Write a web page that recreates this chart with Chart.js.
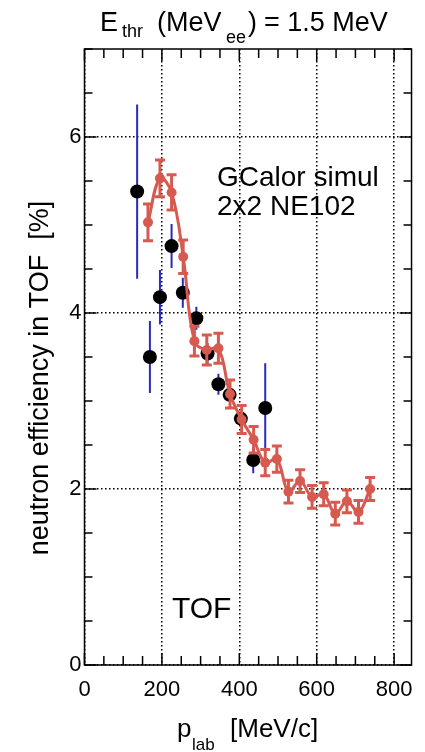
<!DOCTYPE html>
<html>
<head>
<meta charset="utf-8">
<script src="https://cdn.jsdelivr.net/npm/chart.js@4.4.0/dist/chart.umd.min.js"></script>
<style>
  html, body { margin: 0; padding: 0; background: #fff; }
</style>
</head>
<body>
<canvas id="eff" width="425" height="752"></canvas>
<script>
// GCalor simulation (red)
const simP = [164, 195, 225, 255, 284, 316, 346, 376, 406, 437, 467, 497, 527, 557, 588, 618, 648, 678, 708, 738];
const simEff = [5.03, 5.53, 5.37, 4.64, 3.68, 3.58, 3.60, 3.08, 2.79, 2.56, 2.30, 2.34, 1.97, 2.09, 1.91, 1.94, 1.72, 1.86, 1.74, 2.00];
const simErr = [0.21, 0.21, 0.20, 0.19, 0.17, 0.17, 0.17, 0.16, 0.16, 0.15, 0.15, 0.15, 0.13, 0.13, 0.13, 0.13, 0.13, 0.13, 0.13, 0.13];

// measured points (black, blue errors)
const expP = [136, 169, 195, 225, 254, 289, 318, 346, 375, 404, 436, 467];
const expEff = [5.38, 3.50, 4.18, 4.76, 4.23, 3.94, 3.54, 3.19, 3.07, 2.80, 2.33, 2.92];
const expErr = [0.99, 0.41, 0.31, 0.25, 0.17, 0.13, 0.12, 0.12, 0.06, 0.06, 0.15, 0.51];

const FONT = "'Liberation Sans', Arial, sans-serif";
const RED = '#d65a50';
const BLUE = '#2a2ac0';

Chart.defaults.font.family = FONT;

const errorBars = {
  id: 'errorBars',
  beforeDatasetDraw(chart, args) {
    const ds = chart.data.datasets[args.index];
    if (!ds.errors) return;
    const { ctx, scales: { x, y } } = chart;
    ctx.save();
    ctx.strokeStyle = ds.errorColor;
    ctx.lineWidth = ds.errorWidth;
    ctx.beginPath();
    ds.data.forEach((pt, i) => {
      const px = x.getPixelForValue(pt.x);
      const top = y.getPixelForValue(pt.y + ds.errors[i]);
      const bot = y.getPixelForValue(pt.y - ds.errors[i]);
      ctx.moveTo(px, top);
      ctx.lineTo(px, bot);
      if (ds.capWidth) {
        const c = ds.capWidth / 2;
        ctx.moveTo(px - c, top); ctx.lineTo(px + c, top);
        ctx.moveTo(px - c, bot); ctx.lineTo(px + c, bot);
      }
    });
    ctx.stroke();
    ctx.restore();
  }
};

// frame with inward ticks on all four sides
const frame = {
  id: 'frame',
  afterDatasetsDraw(chart) {
    const { ctx, chartArea: a, scales: { x, y } } = chart;
    ctx.save();
    ctx.strokeStyle = '#000';
    ctx.lineWidth = 1.5;
    ctx.strokeRect(a.left, a.top, a.right - a.left, a.bottom - a.top);
    ctx.beginPath();
    for (let v = 0; v <= x.max; v += 50) {
      const p = x.getPixelForValue(v);
      const len = v % 200 === 0 ? 12 : 9;
      ctx.moveTo(p, a.bottom); ctx.lineTo(p, a.bottom - len);
      ctx.moveTo(p, a.top); ctx.lineTo(p, a.top + len);
    }
    for (let v = 0; v <= y.max; v += 0.5) {
      const p = y.getPixelForValue(v);
      const len = v % 2 === 0 ? 12 : 8;
      ctx.moveTo(a.left, p); ctx.lineTo(a.left + len, p);
      ctx.moveTo(a.right, p); ctx.lineTo(a.right - len, p);
    }
    ctx.stroke();
    ctx.restore();
  }
};

// parts: [text, x, size, dy]
function placeText(ctx, parts, y) {
  parts.forEach(([t, x, size, dy]) => {
    ctx.font = size + 'px ' + FONT;
    ctx.fillText(t, x, y + dy);
  });
}

const labels = {
  id: 'labels',
  afterDraw(chart) {
    const { ctx } = chart;
    ctx.save();
    ctx.fillStyle = '#000';
    ctx.textBaseline = 'alphabetic';
    ctx.textAlign = 'left';
    placeText(ctx, [
      ['E', 100, 27, 0], ['thr', 122, 18, 6], ['(MeV', 157, 27, 0],
      ['ee', 226, 18, 12], [')', 248, 27, 0], ['= 1.5 MeV', 264, 27, 0]
    ], 31);
    placeText(ctx, [['p', 177, 26, 0], ['lab', 192, 17, 13], ['[MeV/c]', 230, 26, 0]], 737);

    ctx.font = '28px ' + FONT;
    ctx.fillText('GCalor simul', 217, 186);
    ctx.fillText('2x2 NE102', 217, 215);
    ctx.font = '30px ' + FONT;
    ctx.fillText('TOF', 172, 618);

    ctx.translate(48, 378);
    ctx.rotate(-Math.PI / 2);
    ctx.textAlign = 'center';
    ctx.font = '27px ' + FONT;
    ctx.fillText('neutron efficiency in TOF  [%]', 0, 0);
    ctx.restore();
  }
};

const tickFont = { family: FONT, size: 22 };

new Chart(document.getElementById('eff').getContext('2d'), {
  type: 'scatter',
  data: {
    datasets: [
      {
        label: 'GCalor simul',
        data: simP.map((p, i) => ({ x: p, y: simEff[i] })),
        errors: simErr,
        errorColor: RED,
        errorWidth: 3,
        capWidth: 10,
        showLine: true,
        tension: 0.4,
        borderColor: RED,
        backgroundColor: RED,
        borderWidth: 3,
        pointRadius: 5,
        pointBorderWidth: 0,
        order: 0
      },
      {
        label: 'data',
        data: expP.map((p, i) => ({ x: p, y: expEff[i] })),
        errors: expErr,
        errorColor: BLUE,
        errorWidth: 2,
        backgroundColor: '#000',
        borderColor: '#000',
        pointRadius: 7,
        pointBorderWidth: 0,
        order: 1
      }
    ]
  },
  options: {
    responsive: false,
    animation: false,
    layout: { padding: { left: 0, top: 49, right: 10, bottom: 0 } },
    plugins: { legend: { display: false }, tooltip: { enabled: false } },
    scales: {
      x: {
        type: 'linear',
        min: 0,
        max: 845,
        afterFit: s => { s.height = 87; },
        ticks: { stepSize: 200, includeBounds: false, padding: 12, color: '#000', font: tickFont, maxRotation: 0 },
        grid: { color: '#000', lineWidth: 1.5, drawTicks: false },
        border: { display: false, dash: [1.5, 2.5] }
      },
      y: {
        min: 0,
        max: 7,
        afterFit: s => { s.width = 84.5; },
        ticks: { stepSize: 2, includeBounds: false, padding: 3, color: '#000', font: tickFont },
        grid: { color: '#000', lineWidth: 1.5, drawTicks: false },
        border: { display: false, dash: [1.5, 2.5] }
      }
    }
  },
  plugins: [errorBars, frame, labels]
});
</script>
</body>
</html>
